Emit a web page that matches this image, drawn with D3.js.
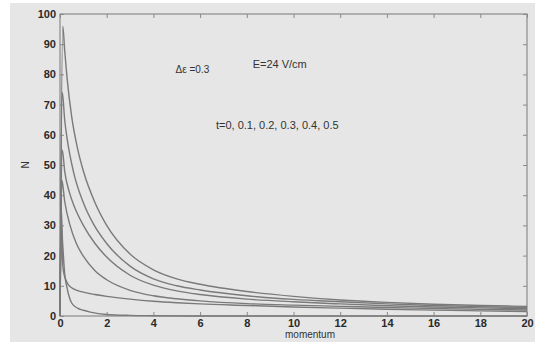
<!DOCTYPE html>
<html>
<head>
<meta charset="utf-8">
<script src="https://cdn.jsdelivr.net/npm/d3@7/dist/d3.min.js"></script>
<style>
  html, body { margin: 0; padding: 0; background: #ffffff; }
  svg { display: block; }
  text { font-family: "Liberation Sans", Arial, sans-serif; }
</style>
</head>
<body>
<script>
// ---- data ----
const xTicks = [0, 2, 4, 6, 8, 10, 12, 14, 16, 18, 20];
const yTicks = [0, 10, 20, 30, 40, 50, 60, 70, 80, 90, 100];

const curveT05 = [[0,0],[0.12,96],[0.2,88],[0.3,79],[0.5,66],[0.75,55.5],[1,48],[1.5,37.5],[2,30],[3,20.5],[4,15.3],[5,12.3],[6,10.5],[8,8.1],[10,6.5],[12,5.3],[14,4.5],[16,3.9],[18,3.5],[20,3.2]];
const curveT04 = [[0,0],[0.1,74],[0.2,65],[0.3,59],[0.57,48],[1,37.5],[1.43,30.5],[2,24],[3,16.5],[4,12.3],[5,10],[6,8.6],[8,6.7],[10,5.5],[12,4.7],[14,4],[16,3.5],[18,3.1],[20,2.8]];
const curveT03 = [[0,0],[0.1,55],[0.2,48],[0.4,41],[0.6,36.5],[1,30],[1.5,24],[2,19.5],[3,13.5],[4,10.2],[5,8.3],[6,7.1],[8,5.6],[10,4.7],[12,4],[14,3.4],[16,3],[18,2.7],[20,2.4]];
const curveT02 = [[0,0],[0.08,45],[0.2,38],[0.43,30],[0.7,24],[1,19.8],[1.5,15],[2,12],[3,8.5],[4,6.7],[5,5.7],[6,5],[8,4.1],[10,3.6],[12,3.2],[14,2.8],[16,2.5],[18,2.2],[20,2]];
const curveT01 = [[0,0],[0.06,30],[0.1,20],[0.14,15.2],[0.25,12],[0.36,10.3],[0.6,8.9],[1,7.9],[1.5,7.1],[2,6.5],[3,5.6],[4,4.9],[5,4.4],[6,4],[8,3.5],[10,3],[12,2.6],[14,2.25],[16,1.95],[18,1.7],[20,1.5]];
const curveT00 = [[0,0],[0.05,36],[0.1,26],[0.14,20.8],[0.2,14],[0.29,9.7],[0.4,6.2],[0.5,4.3],[0.75,2.6],[1,1.9],[1.3,1.3],[2,0.5],[3,0.2],[4,0.1],[6,0],[20,0]];
const seriesList = [curveT00, curveT01, curveT02, curveT03, curveT04, curveT05];

const annotations = [
  { text: "\u0394\u03b5 =0.3", x: 4.95, y: 80.5, size: 10 },
  { text: "E=24 V/cm", x: 8.25, y: 82.2, size: 11 },
  { text: "t=0, 0.1, 0.2, 0.3, 0.4, 0.5", x: 6.68, y: 62, size: 11 }
];

// ---- layout ----
const W = 535, H = 342;
const margin = { left: 60, top: 14 };
const pw = 527 - 60, ph = 316 - 14;

const svg = d3.select("body").append("svg").attr("width", W).attr("height", H);

svg.append("rect").attr("x", 10).attr("y", 3).attr("width", W - 10).attr("height", H - 3).attr("fill", "#e6e6e6");

const g = svg.append("g").attr("transform", `translate(${margin.left},${margin.top})`);

const x = d3.scaleLinear().domain([0, 20]).range([0, pw]);
const y = d3.scaleLinear().domain([0, 100]).range([ph, 0]);

const axisColor = "#8a8a8a";
function styleAxis(sel, showLabels) {
  sel.select(".domain").remove();
  sel.selectAll(".tick line").attr("stroke", axisColor).attr("stroke-width", 1);
  sel.selectAll(".tick text").attr("fill", showLabels ? "#2a2a2a" : "none")
     .style("font-size", "11px").style("font-weight", "bold");
}

g.append("g").attr("transform", `translate(0,${ph})`)
  .call(d3.axisBottom(x).tickValues(xTicks).tickSize(-4).tickPadding(3).tickFormat(d3.format("d")))
  .call(s => styleAxis(s, true));
g.append("g")
  .call(d3.axisLeft(y).tickValues(yTicks).tickSize(-4).tickPadding(4).tickFormat(d3.format("d")))
  .call(s => styleAxis(s, true));
g.append("g")
  .call(d3.axisTop(x).tickValues(xTicks).tickSize(-4).tickFormat(""))
  .call(s => styleAxis(s, false));
g.append("g").attr("transform", `translate(${pw},0)`)
  .call(d3.axisRight(y).tickValues(yTicks).tickSize(-4).tickFormat(""))
  .call(s => styleAxis(s, false));

g.append("rect").attr("x", 0).attr("y", 0).attr("width", pw).attr("height", ph)
  .attr("fill", "none").attr("stroke", axisColor).attr("stroke-width", 1.2);

const line = d3.line().x(d => x(d[0])).y(d => y(d[1])).curve(d3.curveMonotoneX);

g.selectAll("path.series").data(seriesList).join("path")
  .attr("class", "series")
  .attr("d", line)
  .attr("fill", "none")
  .attr("stroke", "#7a7a7a")
  .attr("stroke-width", 1.4);

g.selectAll("text.ann").data(annotations).join("text")
  .attr("class", "ann")
  .attr("x", d => x(d.x)).attr("y", d => y(d.y))
  .attr("fill", "#333")
  .style("font-size", d => d.size + "px")
  .text(d => d.text);

svg.append("text").attr("x", 310).attr("y", 338).attr("text-anchor", "middle")
  .attr("fill", "#333").style("font-size", "10px").text("momentum");
svg.append("text").attr("transform", "translate(29,165) rotate(-90)").attr("text-anchor", "middle")
  .attr("fill", "#333").style("font-size", "10px").text("N");
</script>
</body>
</html>
